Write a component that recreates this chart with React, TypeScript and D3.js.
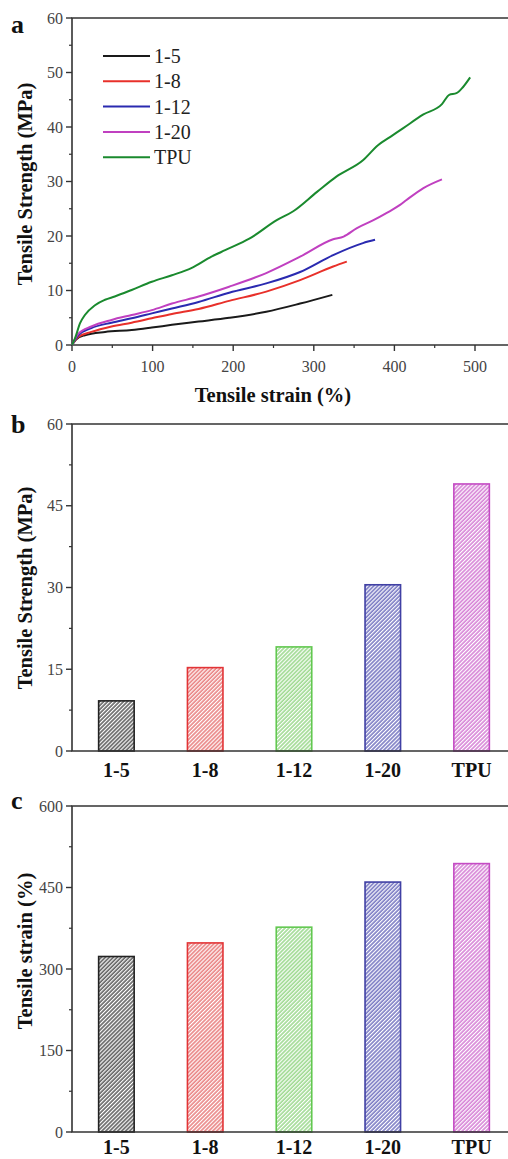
import React, { useEffect, useRef } from "react";
import * as d3 from "d3";

// panel a: stress-strain curves, [strain %, stress MPa]
const curve15 = [[0, 0], [5, 1], [16, 1.8], [41, 2.4], [74, 2.75], [99, 3.2], [124, 3.7], [157, 4.3], [195, 5.0], [241, 6.1], [283, 7.6], [323, 9.2]];
const curve18 = [[0, 0], [8, 1.5], [24, 2.4], [49, 3.4], [74, 4.1], [99, 4.9], [124, 5.7], [157, 6.6], [195, 8.1], [241, 9.8], [283, 11.9], [324, 14.4], [341, 15.3]];
const curve112 = [[0, 0], [8, 1.8], [24, 3.1], [49, 4.1], [74, 4.9], [99, 5.8], [124, 6.7], [157, 7.9], [195, 9.6], [241, 11.3], [283, 13.4], [324, 16.5], [361, 18.7], [376, 19.3]];
const curve120 = [[0, 0], [8, 2.1], [24, 3.4], [49, 4.6], [74, 5.5], [99, 6.4], [124, 7.6], [157, 8.9], [195, 10.7], [241, 13.2], [283, 16.2], [324, 19.4], [337, 19.9], [353, 21.4], [374, 22.9], [390, 24.2], [407, 25.7], [415, 26.6], [436, 28.8], [459, 30.4]];
const curveTPU = [[0, 0], [3.7, 1.2], [10, 4.0], [16, 5.5], [28.5, 7.3], [41, 8.3], [53, 8.9], [74, 10.1], [99, 11.6], [124, 12.8], [148, 14.1], [173, 16.2], [190, 17.4], [220, 19.5], [254, 22.9], [274, 24.5], [304, 28.1], [328, 30.9], [361, 33.9], [380, 36.7], [395, 38.2], [411, 39.8], [436, 42.3], [459, 44.2], [468, 45.9], [477, 46.2], [485, 47.3], [494, 49.1]];

const seriesNames = ["1-5", "1-8", "1-12", "1-20", "TPU"];
const lineColors = ["#1a1a1a", "#e8302a", "#2a2ab0", "#c040c0", "#1a8a2e"];
const curves = [curve15, curve18, curve112, curve120, curveTPU];

// panels b, c
const barNames = ["1-5", "1-8", "1-12", "1-20", "TPU"];
const strengthValues = [9.2, 15.3, 19.1, 30.5, 49.0];
const strainValues = [323, 348, 377, 460, 494];
const barBorder = ["#222222", "#e23436", "#62c850", "#4040a4", "#c44cc4"];
const barHatch = ["#3a3a3a", "#e46464", "#86d076", "#5a5ab4", "#cc64cc"];

const strengthTicks = [0, 15, 30, 45, 60];
const strainTicks = [0, 150, 300, 450, 600];

const FONT = "'Liberation Serif', 'Times New Roman', serif";

export default function App() {
  const ref = useRef<SVGSVGElement>(null);

  useEffect(() => {
    const svg = d3.select(ref.current);
    svg.selectAll("*").remove();

    const defs = svg.append("defs");
    barHatch.forEach((c, i) => {
      const p = defs
        .append("pattern")
        .attr("id", "hatch" + i)
        .attr("patternUnits", "userSpaceOnUse")
        .attr("width", 2.8)
        .attr("height", 10)
        .attr("patternTransform", "rotate(45)");
      p.append("line")
        .attr("x1", 1).attr("y1", 0).attr("x2", 1).attr("y2", 10)
        .attr("stroke", c).attr("stroke-width", 1.3);
    });

    const axisColor = "#333";
    const left = 72;
    const right = 516;

    const frame = (g, top, bottom) => {
      g.append("path")
        .attr("d", `M${right},${top}H${left}V${bottom}H${right}`)
        .attr("fill", "none")
        .attr("stroke", axisColor)
        .attr("stroke-width", 1.6);
    };

    const yAxis = (g, y, ticks, minors) => {
      minors.forEach((t) => {
        g.append("line").attr("x1", left - 3).attr("x2", left).attr("y1", y(t)).attr("y2", y(t)).attr("stroke", axisColor).attr("stroke-width", 1.2);
      });
      ticks.forEach((t) => {
        g.append("line").attr("x1", left - 6).attr("x2", left).attr("y1", y(t)).attr("y2", y(t)).attr("stroke", axisColor).attr("stroke-width", 1.4);
        g.append("text")
          .attr("x", left - 9)
          .attr("y", y(t) + 5.5)
          .attr("text-anchor", "end")
          .attr("font-size", 16)
          .attr("fill", "#444")
          .text(t);
      });
    };

    const panelLetter = (g, letter, y) => {
      g.append("text")
        .attr("x", 11)
        .attr("y", y)
        .attr("font-size", 26)
        .attr("font-weight", "bold")
        .attr("fill", "#111")
        .text(letter);
    };

    const yTitle = (g, text, cy) => {
      g.append("text")
        .attr("transform", `translate(32,${cy}) rotate(-90)`)
        .attr("text-anchor", "middle")
        .attr("font-size", 20.5)
        .attr("font-weight", "bold")
        .attr("fill", "#111")
        .text(text);
    };

    const root = svg.append("g").attr("font-family", FONT);

    // ---------- panel a ----------
    const ga = root.append("g");
    const xA = d3.scaleLinear().domain([0, 500]).range([left, 475]);
    const yA = d3.scaleLinear().domain([0, 60]).range([345, 18]);
    frame(ga, 18, 345);
    yAxis(ga, yA, d3.range(0, 61, 10), d3.range(5, 60, 10));
    d3.range(0, 551, 50).forEach((t) => {
      const major = t % 100 === 0;
      ga.append("line")
        .attr("x1", xA(t)).attr("x2", xA(t))
        .attr("y1", 345).attr("y2", 345 + (major ? 6 : 3))
        .attr("stroke", axisColor).attr("stroke-width", major ? 1.4 : 1.2);
      if (major && t <= 500) {
        ga.append("text")
          .attr("x", xA(t))
          .attr("y", 372)
          .attr("text-anchor", "middle")
          .attr("font-size", 16)
          .attr("fill", "#444")
          .text(t);
      }
    });
    const line = d3
      .line<number[]>()
      .x((d) => xA(d[0]))
      .y((d) => yA(d[1]))
      .curve(d3.curveMonotoneX);
    curves.forEach((c, i) => {
      ga.append("path")
        .attr("d", line(c))
        .attr("fill", "none")
        .attr("stroke", lineColors[i])
        .attr("stroke-width", 2);
    });
    seriesNames.forEach((n, i) => {
      const cy = 56 + i * 25.3;
      ga.append("line").attr("x1", 103).attr("x2", 150).attr("y1", cy).attr("y2", cy).attr("stroke", lineColors[i]).attr("stroke-width", 2);
      ga.append("text").attr("x", 154).attr("y", cy + 7).attr("font-size", 20).attr("fill", "#222").text(n);
    });
    ga.append("text")
      .attr("x", 273)
      .attr("y", 402)
      .attr("text-anchor", "middle")
      .attr("font-size", 20.5)
      .attr("font-weight", "bold")
      .attr("fill", "#111")
      .text("Tensile strain (%)");
    yTitle(ga, "Tensile Strength (MPa)", 184);
    panelLetter(ga, "a", 33);

    // ---------- bar panels ----------
    const barPanel = (top, bottom, values, ticks, title, letter, letterY, titleY, labelY) => {
      const g = root.append("g");
      const x = d3.scaleBand().domain(barNames).range([left, right]).paddingInner(0.6).paddingOuter(0.3);
      const y = d3.scaleLinear().domain([0, ticks[ticks.length - 1]]).range([bottom, top]);
      const step = ticks[1] - ticks[0];
      const minors = ticks.slice(0, -1).map((t) => t + step / 2);
      g.selectAll("rect.bar")
        .data(values)
        .enter()
        .append("rect")
        .attr("class", "bar")
        .attr("x", (d, i) => x(barNames[i]))
        .attr("y", (d) => y(d))
        .attr("width", x.bandwidth())
        .attr("height", (d) => bottom - y(d))
        .attr("fill", (d, i) => `url(#hatch${i})`)
        .attr("stroke", (d, i) => barBorder[i])
        .attr("stroke-width", 1.6);
      frame(g, top, bottom);
      yAxis(g, y, ticks, minors);
      barNames.forEach((n) => {
        g.append("text")
          .attr("x", x(n) + x.bandwidth() / 2)
          .attr("y", labelY)
          .attr("text-anchor", "middle")
          .attr("font-size", 20)
          .attr("font-weight", "bold")
          .attr("fill", "#111")
          .text(n);
      });
      yTitle(g, title, titleY);
      panelLetter(g, letter, letterY);
    };

    barPanel(424, 751, strengthValues, strengthTicks, "Tensile Strength (MPa)", "b", 433, 588, 777);
    barPanel(806, 1132, strainValues, strainTicks, "Tensile strain (%)", "c", 809, 951, 1154);
  }, []);

  return (
    <svg
      ref={ref}
      width={508}
      height={1159}
      style={{ position: "absolute", left: 0, top: 0, background: "#fff" }}
    />
  );
}
